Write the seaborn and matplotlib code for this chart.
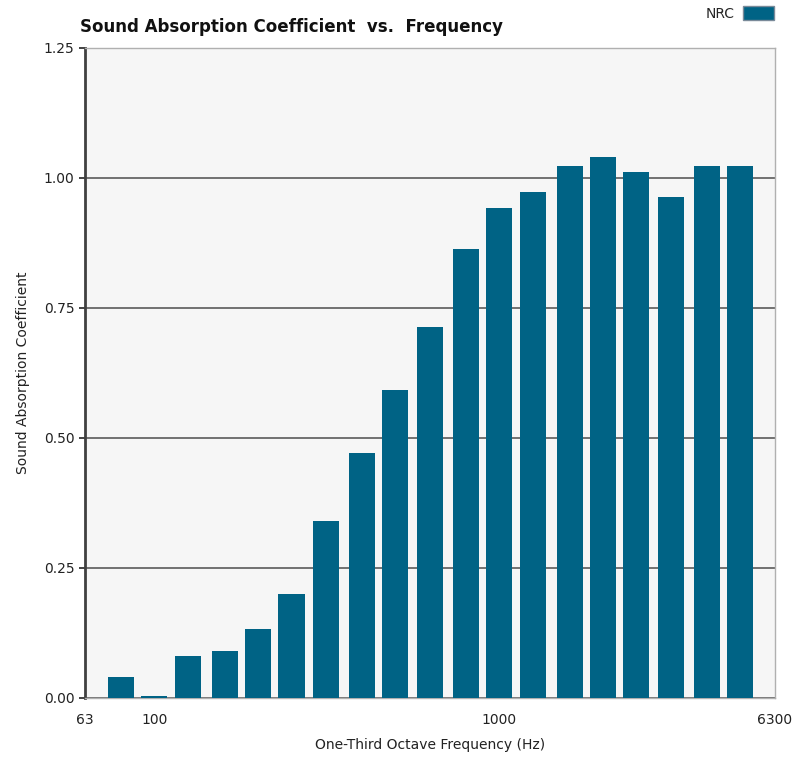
import matplotlib
matplotlib.use("Agg")
import matplotlib.pyplot as plt
import seaborn as sns
import pandas as pd
from matplotlib.patches import Patch

# One-third octave bands and measured absorption coefficients
freqs = [80, 100, 125, 160, 200, 250, 315, 400, 500, 630,
         800, 1000, 1250, 1600, 2000, 2500, 3150, 4000, 5000]
alpha = [0.04, 0.003, 0.081, 0.09, 0.133, 0.20, 0.34, 0.471, 0.592, 0.713,
         0.863, 0.942, 0.973, 1.023, 1.04, 1.012, 0.963, 1.023, 1.023]
x_ticks = [63, 100, 1000, 6300]
y_ticks = [0.0, 0.25, 0.5, 0.75, 1.0, 1.25]

bar_color = "#006385"
df = pd.DataFrame({"freq": freqs, "alpha": alpha})

sns.set_style("white")
plt.rcParams["font.family"] = ["DejaVu Sans"]

fig = plt.figure(figsize=(7.98, 7.58), dpi=100)
ax = fig.add_axes([0.1065, 0.0792, 0.8645, 0.8575])
ax.set_facecolor("#f6f6f6")

sns.barplot(data=df, x="freq", y="alpha", native_scale=True, log_scale=(True, False),
            color=bar_color, saturation=1, width=0.78, linewidth=0, ax=ax, zorder=3)

ax.set_xlim(63, 6300)
ax.set_ylim(0, 1.25)
ax.set_xticks(x_ticks)
ax.set_xticklabels([str(t) for t in x_ticks])
ax.xaxis.set_minor_locator(matplotlib.ticker.NullLocator())
ax.set_yticks(y_ticks)
ax.set_yticklabels([f"{t:.2f}" for t in y_ticks])
ax.tick_params(axis="x", length=0, labelsize=10, pad=11, colors="#222222")
ax.tick_params(axis="y", length=4, width=1.2, labelsize=10, colors="#222222", left=True)
ax.grid(axis="y", color="#666666", linewidth=1.3, zorder=1)
ax.set_axisbelow(True)

ax.set_xlabel("One-Third Octave Frequency (Hz)", fontsize=10, labelpad=8, color="#222222")
ax.set_ylabel("Sound Absorption Coefficient", fontsize=10, labelpad=10, color="#222222")

for side in ["top", "right", "bottom"]:
    ax.spines[side].set_color("#b0b0b0")
    ax.spines[side].set_linewidth(1)
ax.spines["left"].set_color("#404040")
ax.spines["left"].set_linewidth(2)

fig.text(0.1, 0.953, "Sound Absorption Coefficient  vs.  Frequency",
         fontsize=12, fontweight="bold", color="#111111", ha="left", va="bottom")

handle = Patch(facecolor=bar_color, edgecolor="#7a8a99")
fig.legend([handle], ["NRC"], loc="upper right", bbox_to_anchor=(0.985, 1.008),
           frameon=False, fontsize=10, markerfirst=False, handlelength=2.2,
           handleheight=1.1, handletextpad=0.6)

fig.savefig("out.png", dpi=100)
